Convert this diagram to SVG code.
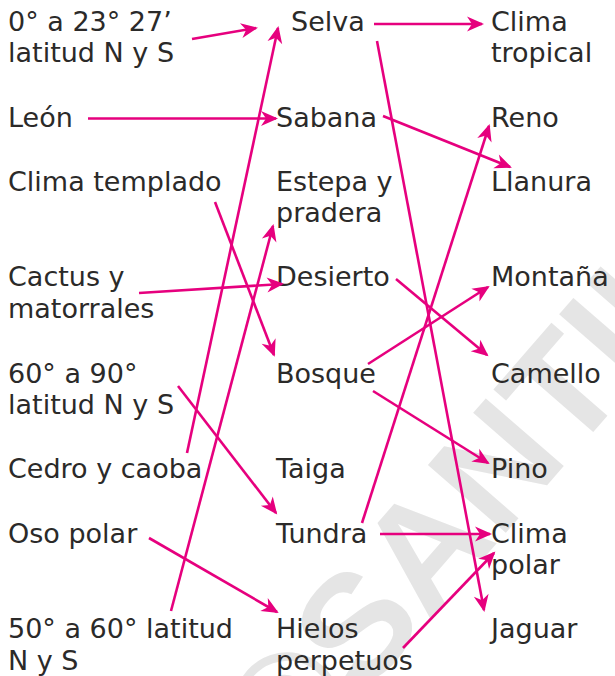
<svg xmlns="http://www.w3.org/2000/svg" width="615" height="676" viewBox="0 0 615 676">
<defs>
<marker id="ah" viewBox="-18 -8 19 16" refX="-2" refY="0" markerWidth="19" markerHeight="16" markerUnits="userSpaceOnUse" orient="auto">
<path d="M0,0 L-17,-7.5 L-12,0 L-17,7.5 Z" fill="#E6007E"/>
</marker>
</defs>
<style>
text.t{font-family:"DejaVu Sans",sans-serif;font-size:27px;fill:#2b2a29}
.wm{font-family:"Liberation Sans",Arial,sans-serif;font-weight:bold;font-size:150px;fill:#e5e5e5}
#connectors line{stroke:#E6007E;stroke-width:2.6;fill:none;marker-end:url(#ah)}
</style>
<rect width="615" height="676" fill="#ffffff"/>
<text class="wm" transform="translate(290,781) rotate(-49)">©SANTILLANA</text>

<g id="left">
<g id="n-lat0"><text class="t" x="8" y="31">0° a 23° 27’</text><text class="t" x="8" y="62">latitud N y S</text></g>
<g id="n-leon"><text class="t" x="8" y="127">León</text></g>
<g id="n-templado"><text class="t" x="8" y="191">Clima templado</text></g>
<g id="n-cactus"><text class="t" x="8" y="286">Cactus y</text><text class="t" x="8" y="318">matorrales</text></g>
<g id="n-lat60"><text class="t" x="8" y="383">60° a 90°</text><text class="t" x="8" y="414">latitud N y S</text></g>
<g id="n-cedro"><text class="t" x="8" y="478">Cedro y caoba</text></g>
<g id="n-oso"><text class="t" x="8" y="543">Oso polar</text></g>
<g id="n-lat50"><text class="t" x="8" y="638">50° a 60° latitud</text><text class="t" x="8" y="670">N y S</text></g>
</g>

<g id="middle">
<g id="n-selva"><text class="t" x="291" y="31">Selva</text></g>
<g id="n-sabana"><text class="t" x="276" y="127">Sabana</text></g>
<g id="n-estepa"><text class="t" x="276" y="191">Estepa y</text><text class="t" x="276" y="222">pradera</text></g>
<g id="n-desierto"><text class="t" x="276" y="286">Desierto</text></g>
<g id="n-bosque"><text class="t" x="276" y="383">Bosque</text></g>
<g id="n-taiga"><text class="t" x="276" y="478">Taiga</text></g>
<g id="n-tundra"><text class="t" x="276" y="543">Tundra</text></g>
<g id="n-hielos"><text class="t" x="276" y="638">Hielos</text><text class="t" x="276" y="670">perpetuos</text></g>
</g>

<g id="right">
<g id="n-tropical"><text class="t" x="491" y="31">Clima</text><text class="t" x="491" y="62">tropical</text></g>
<g id="n-reno"><text class="t" x="491" y="127">Reno</text></g>
<g id="n-llanura"><text class="t" x="491" y="191">Llanura</text></g>
<g id="n-montana"><text class="t" x="491" y="286">Montaña</text></g>
<g id="n-camello"><text class="t" x="491" y="383">Camello</text></g>
<g id="n-pino"><text class="t" x="491" y="478">Pino</text></g>
<g id="n-polar"><text class="t" x="491" y="543">Clima</text><text class="t" x="491" y="574">polar</text></g>
<g id="n-jaguar"><text class="t" x="491" y="638">Jaguar</text></g>
</g>

<g id="connectors">
<line x1="192" y1="39" x2="256" y2="28"/>
<line x1="187" y1="453" x2="278" y2="28"/>
<line x1="88" y1="118.5" x2="276" y2="118.5"/>
<line x1="374" y1="24" x2="482" y2="24"/>
<line x1="377" y1="41" x2="484" y2="610"/>
<line x1="383" y1="116" x2="510" y2="167"/>
<line x1="362" y1="523" x2="489" y2="126"/>
<line x1="215" y1="202" x2="274" y2="355"/>
<line x1="139" y1="293" x2="282" y2="284"/>
<line x1="171" y1="611" x2="273" y2="226"/>
<line x1="396" y1="279" x2="487" y2="355"/>
<line x1="368" y1="364" x2="488" y2="287"/>
<line x1="373" y1="391" x2="488" y2="463"/>
<line x1="178" y1="386" x2="276" y2="513"/>
<line x1="380" y1="534" x2="490" y2="534"/>
<line x1="403" y1="648" x2="494" y2="553"/>
<line x1="149" y1="538" x2="277" y2="612"/>
</g>
</svg>
